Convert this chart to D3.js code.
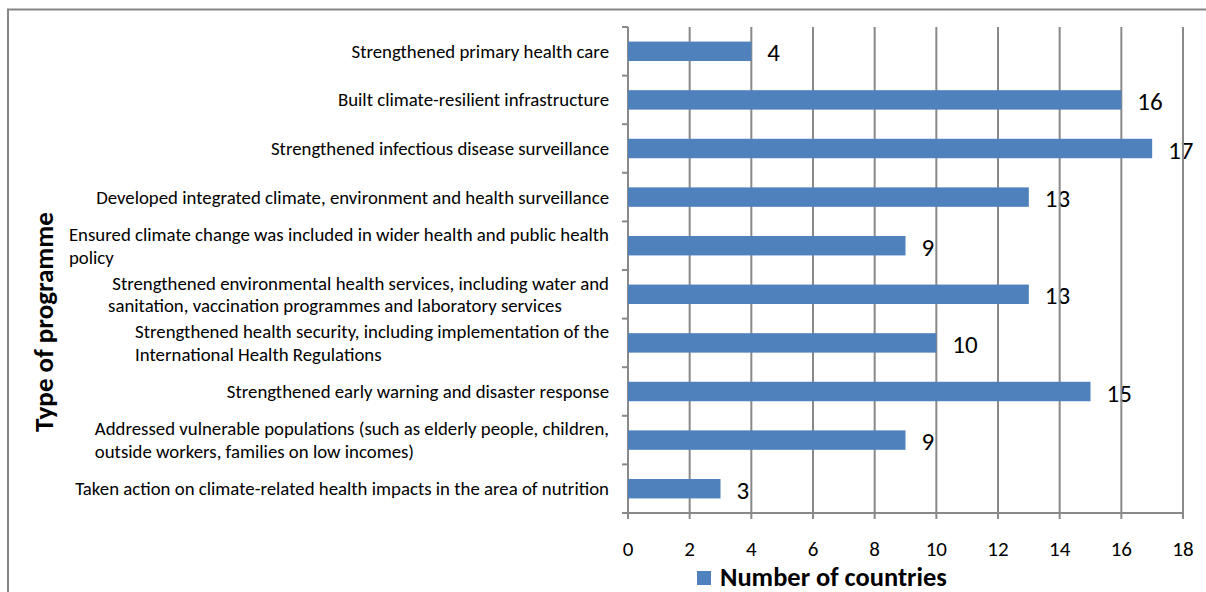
<!DOCTYPE html>
<html>
<head>
<meta charset="utf-8">
<script src="https://cdn.jsdelivr.net/npm/d3@7"></script>
<style>
  html, body { margin: 0; padding: 0; background: #fff; }
  svg { display: block; }
  text { font-family: Carlito, Lato, "Open Sans", sans-serif; }
</style>
</head>
<body>
<svg id="chart" width="1206" height="592"></svg>
<script>
const categories = [
  "Strengthened primary health care",
  "Built climate-resilient infrastructure",
  "Strengthened infectious disease surveillance",
  "Developed integrated climate, environment and health surveillance",
  "Ensured climate change was included in wider health and public health\npolicy",
  " Strengthened environmental health services, including water and\nsanitation, vaccination programmes and laboratory services",
  "Strengthened health security, including implementation of the\nInternational Health Regulations",
  "Strengthened early warning and disaster response",
  "Addressed vulnerable populations (such as elderly people, children,\noutside workers, families on low incomes)",
  "Taken action on climate-related health impacts in the area of nutrition"
];
const values = [4, 16, 17, 13, 9, 13, 10, 15, 9, 3];
const xTicks = [0, 2, 4, 6, 8, 10, 12, 14, 16, 18];
const seriesName = "Number of countries";
const yTitle = "Type of programme";

(function () {
const svg = d3.select("#chart");
const gridColor = "#898989";
const barColor = "#4f81bd";

const pLeft = 628, pRight = 1183, pTop = 27, pBottom = 513;
const x = d3.scaleLinear().domain([0, 18]).range([pLeft, pRight]);
const y = d3.scaleBand().domain(categories).range([pTop, pBottom]).paddingInner(0.6).paddingOuter(0.3);

// outer border
svg.append("rect").attr("x", 8).attr("y", 9.5).attr("width", 1300).attr("height", 700)
  .attr("fill", "none").attr("stroke", "#868686").attr("stroke-width", 2);

// value labels (under gridlines)
svg.append("g").selectAll("text").data(categories).join("text")
  .attr("x", (d, i) => x(values[i]) + 16)
  .attr("y", d => y(d) + y.bandwidth() / 2 + 10)
  .attr("font-size", 25).attr("fill", "#000")
  .text((d, i) => values[i]);

// gridlines
svg.append("g").selectAll("line").data(xTicks).join("line")
  .attr("x1", d => x(d)).attr("x2", d => x(d))
  .attr("y1", pTop).attr("y2", pBottom + 6)
  .attr("stroke", gridColor).attr("stroke-width", 2);

// x axis line
svg.append("line").attr("x1", pLeft).attr("x2", pRight).attr("y1", pBottom).attr("y2", pBottom)
  .attr("stroke", gridColor).attr("stroke-width", 2);

// y axis line and ticks
svg.append("line").attr("x1", pLeft).attr("x2", pLeft).attr("y1", pTop).attr("y2", pBottom)
  .attr("stroke", gridColor).attr("stroke-width", 2);
svg.append("g").selectAll("line").data(d3.range(categories.length + 1)).join("line")
  .attr("x1", pLeft - 6).attr("x2", pLeft)
  .attr("y1", i => pTop + i * y.step())
  .attr("y2", i => pTop + i * y.step())
  .attr("stroke", gridColor).attr("stroke-width", 2);

// bars
svg.append("g").selectAll("rect").data(categories).join("rect")
  .attr("x", x(0)).attr("y", d => y(d))
  .attr("width", (d, i) => x(values[i]) - x(0))
  .attr("height", y.bandwidth())
  .attr("fill", barColor);

// x tick labels
svg.append("g").selectAll("text").data(xTicks).join("text")
  .attr("x", d => x(d)).attr("y", 556)
  .attr("text-anchor", "middle").attr("font-size", 21).attr("fill", "#000")
  .text(d => d);

function fitSize(txt, weight, target) {
  const t = svg.append("text").attr("font-size", 100).attr("font-weight", weight).text(txt);
  const w = t.node().getComputedTextLength();
  t.remove();
  return 100 * target / w;
}
const catFont = fitSize("Taken action on climate-related health impacts in the area of nutrition", "normal", 534);
const lineH = 22.5;
const catG = svg.append("g");
categories.forEach(c => {
  const lines = c.split("\n");
  const cy = y(c) + y.bandwidth() / 2;
  const g = catG.append("g");
  const texts = lines.map((ln, j) => g.append("text")
    .attr("font-size", catFont).attr("fill", "#000")
    .style("white-space", "pre")
    .attr("y", cy + (j - (lines.length - 1) / 2) * lineH + catFont * 0.35)
    .text(ln));
  const maxW = d3.max(texts, t => t.node().getComputedTextLength());
  texts.forEach(t => t.attr("x", 609 - maxW));
});

// y axis title
const titleFont = fitSize(yTitle, "bold", 220);
svg.append("text")
  .attr("transform", "translate(53,322) rotate(-90)")
  .attr("text-anchor", "middle").attr("font-weight", "bold")
  .attr("font-size", titleFont).attr("fill", "#000")
  .text(yTitle);

// legend
const legFont = fitSize(seriesName, "bold", 227);
svg.append("rect").attr("x", 697).attr("y", 571).attr("width", 14).attr("height", 14).attr("fill", barColor);
svg.append("text").attr("x", 720).attr("y", 586)
  .attr("font-weight", "bold").attr("font-size", legFont).attr("fill", "#000")
  .text(seriesName);
})();
</script>
</body>
</html>
